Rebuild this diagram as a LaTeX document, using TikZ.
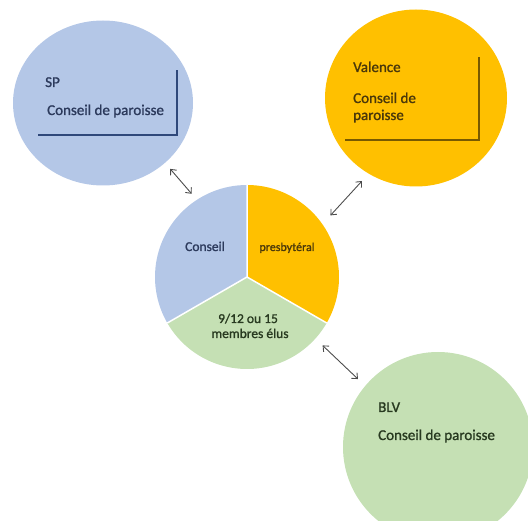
\documentclass[tikz,border=0pt]{standalone}
\usepackage{fontspec}
\setmainfont{Carlito}
\newfontfamily\gras{Carlito}[FakeBold=1.2]
\usetikzlibrary{arrows.meta,shapes.geometric}
\definecolor{spblue}{RGB}{180,199,231}
\definecolor{valorange}{RGB}{255,192,0}
\definecolor{blvgreen}{RGB}{197,224,180}
\definecolor{spdark}{RGB}{44,58,92}
\definecolor{valdark}{RGB}{74,56,10}
\definecolor{blvdark}{RGB}{40,58,32}
\definecolor{spline}{RGB}{47,72,122}
\definecolor{valline}{RGB}{120,90,0}
\begin{document}
\begin{tikzpicture}[x=1pt,y=1pt,
    bulle/.style={ellipse,inner sep=0pt,outer sep=0pt},
    lien/.style={{Straight Barb[length=4.5pt,width=8pt]}-{Straight Barb[length=4.5pt,width=8pt]},
      draw=black!70,line width=0.9pt},
    txt/.style={anchor=base west,inner sep=0pt,font=\gras\fontsize{15}{17}\selectfont}]
  \clip (0,0) rectangle (528,520);
  \useasboundingbox (0,0) rectangle (528,520);
  % paroisses
  \node[bulle,fill=spblue,minimum width=180pt,minimum height=165pt] (sp) at (103,417) {};
  \node[bulle,fill=valorange,minimum width=182pt,minimum height=177pt] (val) at (416,422) {};
  \node[bulle,fill=blvgreen,minimum width=190pt,minimum height=190pt] (blv) at (438,73) {};
  \draw[spline,line width=2pt] (38,385) -| (177,450);
  \draw[valline,line width=2pt] (345,380) -| (479,463);
  \node[txt,text=spdark] (sptitre) at (45,433) {SP};
  \node[txt,text=spdark] (spconseil) at (47,405) {Conseil de paroisse};
  \node[txt,text=valdark] (valtitre) at (353,448) {Valence};
  \node[txt,text=valdark] (valconseil) at (353,417) {Conseil de};
  \node[txt,text=valdark] (valparoisse) at (353,400) {paroisse};
  \node[txt,text=blvdark] (blvtitre) at (378,108) {BLV};
  \node[txt,text=blvdark] (blvconseil) at (378,80) {Conseil de paroisse};
  % conseil presbyteral
  \node[circle,minimum size=184pt,inner sep=0pt,outer sep=0pt] (pie) at (247,243) {};
  \fill[spblue] (pie.center) -- (pie.90) arc[start angle=90,end angle=210,radius=92] -- cycle;
  \fill[blvgreen] (pie.center) -- (pie.210) arc[start angle=210,end angle=330,radius=92] -- cycle;
  \fill[valorange] (pie.center) -- (pie.330) arc[start angle=-30,end angle=90,radius=92] -- cycle;
  \draw[white,line width=1.5pt] (pie.90) -- (pie.center) -- (pie.210) (pie.center) -- (pie.330);
  \node[anchor=base,inner sep=0pt,text=spdark,font=\gras\fontsize{13.5}{16}\selectfont] (conseil) at (205,269) {Conseil};
  \node[anchor=base,inner sep=0pt,text=valdark,font=\gras\fontsize{12}{14}\selectfont] (presb) at (287,269) {presbytéral};
  \node[anchor=base,inner sep=0pt,text=blvdark,font=\gras\fontsize{13.5}{16}\selectfont] (membres1) at (248,197) {9/12 ou 15};
  \node[anchor=base,inner sep=0pt,text=blvdark,font=\gras\fontsize{13.5}{16}\selectfont] (membres2) at (250,182) {membres élus};
  % liens
  \draw[lien,shorten <=8pt,shorten >=8pt] (sp.-44) -- (pie.123);
  \draw[lien,shorten <=10pt,shorten >=12pt] (val.238) -- (pie.35);
  \draw[lien,shorten <=10pt,shorten >=10pt] (pie.-42) -- (blv.140);
\end{tikzpicture}
\end{document}
